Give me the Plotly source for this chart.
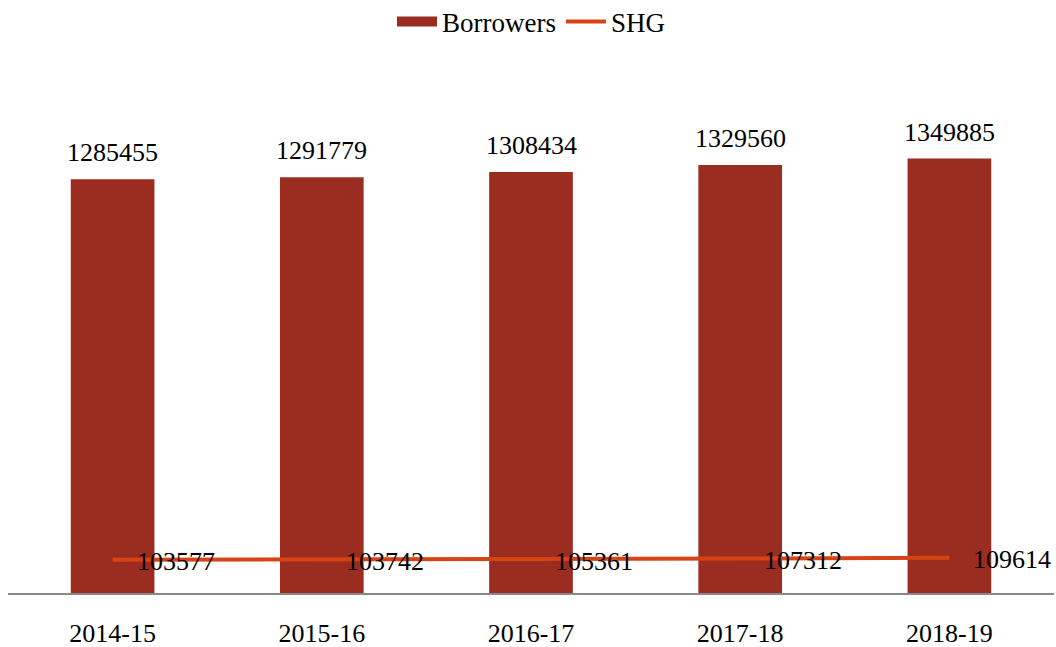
import plotly.graph_objects as go

years = ["2014-15", "2015-16", "2016-17", "2017-18", "2018-19"]
borrowers = [1285455, 1291779, 1308434, 1329560, 1349885]
shg = [103577, 103742, 105361, 107312, 109614]

BAR_COLOR = "#9B2D20"
LINE_COLOR = "#D84315"
FONT = "Liberation Serif"

fig = go.Figure()
fig.add_trace(go.Bar(x=years, y=borrowers, name="Borrowers", showlegend=False,
                     legendgroup="b",
                     marker=dict(color=BAR_COLOR, line=dict(width=0))))
# legend swatch for bars drawn as a wide block, matching the reference legend
fig.add_trace(go.Scatter(x=[None], y=[None], name="Borrowers", mode="lines",
                         legendgroup="b", hoverinfo="skip",
                         line=dict(color=BAR_COLOR, width=16)))
fig.add_trace(go.Scatter(x=years, y=shg, name="SHG", mode="lines",
                         line=dict(color=LINE_COLOR, width=4)))

for x, v in zip(years, borrowers):
    fig.add_annotation(x=x, y=v, text=str(v), showarrow=False,
                       yanchor="bottom", yshift=10,
                       font=dict(family=FONT, size=26, color="black"))
for x, v in zip(years, shg):
    fig.add_annotation(x=x, y=v, text=str(v), showarrow=False,
                       xanchor="left", yanchor="middle", xshift=22, yshift=-2,
                       font=dict(family=FONT, size=26, color="black"))

fig.update_layout(
    width=1056, height=647,
    margin=dict(l=8, r=2, t=80, b=54, autoexpand=False),
    paper_bgcolor="white", plot_bgcolor="white",
    font=dict(family=FONT, size=26, color="black"),
    bargap=0.6,
    showlegend=True,
    legend=dict(orientation="h", x=0.5, xanchor="center", y=1.113, yanchor="middle",
                font=dict(family=FONT, size=27, color="black"),
                itemwidth=40, tracegroupgap=0, traceorder="normal"),
    xaxis=dict(showline=True, linecolor="#888888", linewidth=2,
               ticks="outside", ticklen=16, tickcolor="rgba(0,0,0,0)",
               showgrid=False, tickfont=dict(family=FONT, size=26)),
    yaxis=dict(range=[0, 1594000], visible=False, showgrid=False),
)

fig.write_html("out.html")
